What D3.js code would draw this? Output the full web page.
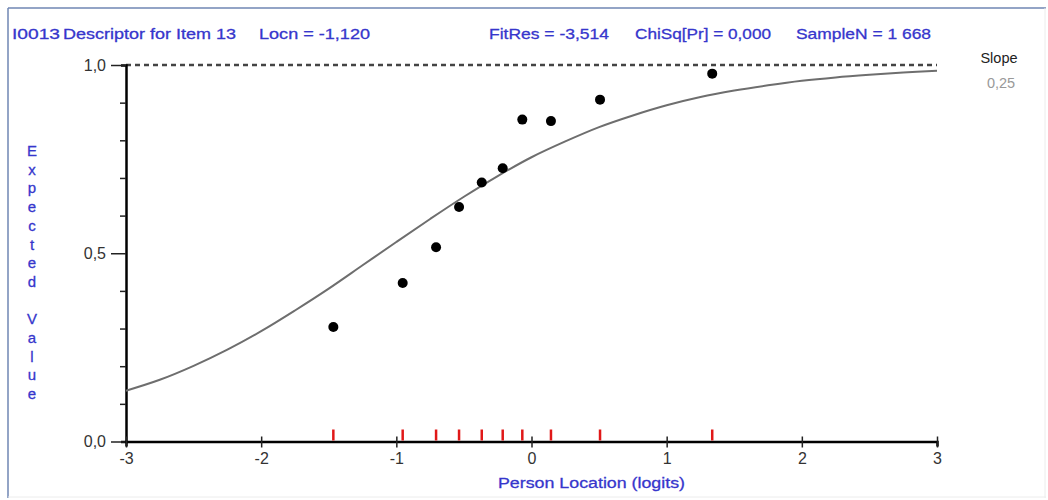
<!DOCTYPE html>
<html><head><meta charset="utf-8">
<script src="https://cdn.jsdelivr.net/npm/d3@7"></script>
<style>html,body{margin:0;padding:0;background:#fff;}svg{display:block;font-family:Arial,"Liberation Sans",sans-serif;}</style>
</head><body>
<svg id="c" width="1048" height="500"></svg>
<script>
// ---- data ----
const headerTexts = ["I0013", "Descriptor for Item 13", "Locn = -1,120", "FitRes = -3,514", "ChiSq[Pr] = 0,000", "SampleN = 1 668"];
const xTicks = [-3, -2, -1, 0, 1, 2, 3];
const yTicks = [0, 0.1, 0.2, 0.3, 0.4, 0.5, 0.6, 0.7, 0.8, 0.9, 1.0];
const yLabelled = [0, 0.5, 1.0];
// observed class-interval means (person location, observed expected value)
const obsX = [-1.466, -0.953, -0.706, -0.536, -0.368, -0.213, -0.068, 0.144, 0.507, 1.337];
const obsY = [0.304, 0.421, 0.516, 0.623, 0.688, 0.726, 0.855, 0.851, 0.908, 0.977];
// expected value curve
const curveX = [-3, -2.75, -2.5, -2.25, -2, -1.75, -1.5, -1.25, -1, -0.75, -0.5, -0.25, 0, 0.25, 0.5, 0.75, 1, 1.25, 1.5, 1.75, 2, 2.25, 2.5, 2.75, 3];
const curveY = [0.135, 0.164, 0.201, 0.244, 0.293, 0.348, 0.406, 0.468, 0.530, 0.591, 0.650, 0.705, 0.755, 0.797, 0.835, 0.866, 0.893, 0.915, 0.932, 0.946, 0.958, 0.967, 0.974, 0.980, 0.985];
const slopeLabel = "Slope";
const slopeValue = "0,25";

// ---- layout ----
const svg = d3.select("#c");
const blue = "#3636cc";
const x = d3.scaleLinear().domain([-3, 3]).range([126, 937]);
const y = d3.scaleLinear().domain([0, 1]).range([441.5, 65]);
const fmt = d3.formatLocale({decimal: ",", thousands: " ", grouping: [3], currency: ["", ""]}).format(".1f");

// frame
svg.append("line").attr("x1", 8).attr("x2", 1046).attr("y1", 8).attr("y2", 8).attr("stroke", "#6f86b3").attr("stroke-width", 1.5);
svg.append("line").attr("x1", 8).attr("x2", 8).attr("y1", 8).attr("y2", 498).attr("stroke", "#6f86b3").attr("stroke-width", 1.5);
svg.append("line").attr("x1", 1045).attr("x2", 1045).attr("y1", 8).attr("y2", 498).attr("stroke", "#ececec").attr("stroke-width", 1);
svg.append("line").attr("x1", 8).attr("x2", 1046).attr("y1", 497).attr("y2", 497).attr("stroke", "#ececec").attr("stroke-width", 1);

// header
const headerX = [12, 63, 259, 489, 635, 796];
const headerW = [48, 173, 111, 120, 136, 135];
svg.append("g").selectAll("text").data(headerTexts).join("text")
  .attr("x", (d, i) => headerX[i]).attr("y", 39)
  .attr("font-size", 15).attr("fill", blue)
  .attr("stroke", blue).attr("stroke-width", 0.3)
  .attr("textLength", (d, i) => headerW[i]).attr("lengthAdjust", "spacingAndGlyphs")
  .text(d => d);

// dashed 1.0 line
svg.append("line").attr("x1", x(-3)).attr("x2", x(3)).attr("y1", y(1)).attr("y2", y(1))
  .attr("stroke", "#444").attr("stroke-width", 2.5).attr("stroke-dasharray", "5,4");

// y axis
const yAxis = svg.append("g").attr("transform", `translate(${x(-3)},0)`)
  .call(d3.axisLeft(y).tickValues(yTicks).tickSizeOuter(0)
    .tickSize(5).tickFormat(d => yLabelled.some(v => Math.abs(v - d) < 1e-9) ? fmt(d) : ""));
yAxis.select(".domain").attr("stroke", "#000").attr("stroke-width", 2.5);
yAxis.selectAll(".tick line").attr("stroke", "#222").attr("stroke-width", 1.5)
  .attr("x2", d => yLabelled.some(v => Math.abs(v - d) < 1e-9) ? -15 : -6);
yAxis.selectAll(".tick text").attr("x", -20).attr("font-size", 16).attr("fill", "#333")
  .attr("font-family", "Arial, 'Liberation Sans', sans-serif");

// x axis
const xAxis = svg.append("g").attr("transform", `translate(0,${y(0)})`)
  .call(d3.axisBottom(x).tickValues(xTicks).tickSizeOuter(0).tickSize(5).tickFormat(d3.format("d")));
xAxis.select(".domain").attr("stroke", "#000").attr("stroke-width", 2.5);
xAxis.selectAll(".tick line").attr("stroke", "#222").attr("stroke-width", 1.5).attr("y1", -5).attr("y2", 6);
xAxis.selectAll(".tick text").attr("y", 11).attr("font-size", 16).attr("fill", "#333")
  .attr("font-family", "Arial, 'Liberation Sans', sans-serif").text(d => d < 0 ? "-" + Math.abs(d) : d);

// red rug ticks for observed points
svg.append("g").selectAll("line").data(obsX).join("line")
  .attr("x1", d => x(d)).attr("x2", d => x(d)).attr("y1", y(0) - 1).attr("y2", y(0) - 12)
  .attr("stroke", "#e01818").attr("stroke-width", 2.5);

// expected curve
const pts = curveX.map((v, i) => [v, curveY[i]]);
svg.append("path").datum(pts)
  .attr("d", d3.line().x(d => x(d[0])).y(d => y(d[1])).curve(d3.curveCatmullRom))
  .attr("fill", "none").attr("stroke", "#6e6e6e").attr("stroke-width", 2);

// observed points
svg.append("g").selectAll("circle").data(obsX).join("circle")
  .attr("cx", d => x(d)).attr("cy", (d, i) => y(obsY[i])).attr("r", 5).attr("fill", "#000");

// y axis label (stacked letters)
const yLab = "Expected Value".split("");
svg.append("g").selectAll("text").data(yLab).join("text")
  .attr("x", 32).attr("y", (d, i) => 156 + i * 18.7)
  .attr("text-anchor", "middle").attr("font-size", 15).attr("fill", blue)
  .attr("stroke", blue).attr("stroke-width", 0.3)
  .text(d => d);

// x axis label
svg.append("text").attr("x", 498).attr("y", 488).attr("font-size", 15.5).attr("fill", blue)
  .attr("stroke", blue).attr("stroke-width", 0.3)
  .attr("textLength", 187).attr("lengthAdjust", "spacingAndGlyphs")
  .text("Person Location (logits)");

// slope
svg.append("text").attr("x", 999).attr("y", 63).attr("text-anchor", "middle").attr("font-size", 14.5).attr("fill", "#222").text(slopeLabel);
svg.append("text").attr("x", 1001).attr("y", 88).attr("text-anchor", "middle").attr("font-size", 14.5).attr("fill", "#999").text(slopeValue);
</script>
</body></html>
